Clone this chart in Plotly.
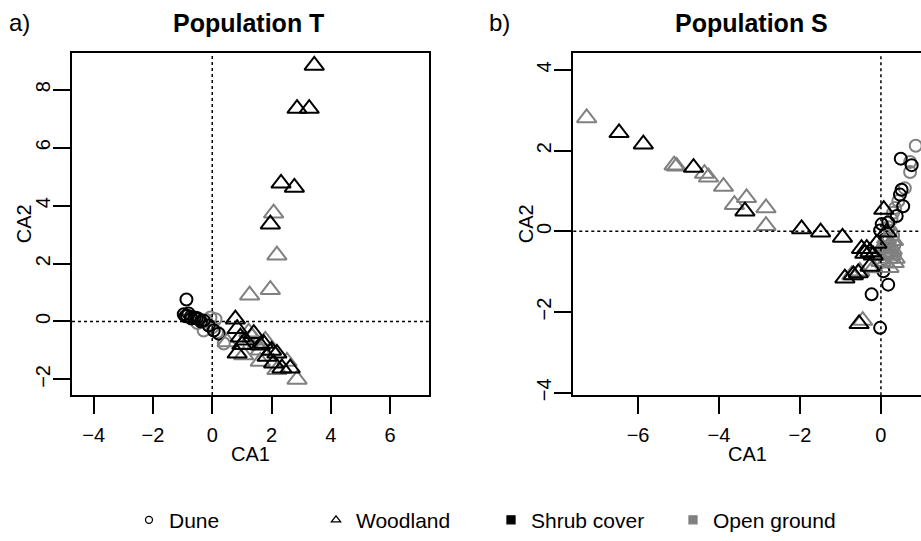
import plotly.graph_objects as go

# ---------------- data ----------------
# Panel a (Population T)
a_dune_shrub_x = [-0.87, -0.96, -0.85, -0.73, -0.60, -0.45, -0.29, -0.12, 0.05, 0.22, -0.90, -0.70, -0.52, -0.38, -0.80]
a_dune_shrub_y = [0.76, 0.25, 0.20, 0.16, 0.14, 0.08, 0.03, -0.14, -0.31, -0.42, 0.18, 0.10, 0.12, 0.00, 0.28]
a_dune_open_x = [-0.29, -0.06, 0.11, 0.16, 0.39, -0.50, -0.20, 0.00]
a_dune_open_y = [-0.31, 0.14, 0.08, -0.37, -0.76, -0.05, 0.05, -0.20]
a_wood_shrub_x = [3.44, 2.86, 3.27, 2.32, 2.77, 1.96, 0.78, 0.84, 0.95, 1.12, 0.84, 1.40, 1.62, 1.73, 1.85, 2.07, 2.18, 2.35, 2.63, 1.00, 2.00]
a_wood_shrub_y = [8.84, 7.35, 7.35, 4.77, 4.63, 3.36, 0.08, -0.25, -0.54, -0.65, -1.10, -0.42, -0.82, -0.76, -1.21, -1.44, -1.10, -1.61, -1.61, -0.80, -1.00]
a_wood_open_x = [2.07, 2.18, 1.96, 1.26, 0.50, 1.06, 1.23, 1.34, 1.62, 1.79, 1.62, 2.18, 2.52, 2.86, 1.50]
a_wood_open_y = [3.74, 2.29, 1.10, 0.91, -0.71, -1.16, -0.37, -0.54, -0.99, -0.65, -1.38, -1.67, -1.38, -2.00, -0.80]

# Panel b (Population S)
b_dune_shrub_x = [0.49, 0.76, 0.51, 0.47, 0.55, 0.39, 0.18, 0.02, -0.02, 0.06, 0.18, -0.23, -0.02, 0.10]
b_dune_shrub_y = [1.80, 1.64, 1.03, 0.91, 0.62, 0.38, 0.22, 0.18, 0.02, -0.99, -1.32, -1.56, -2.39, -0.20]
b_dune_open_x = [0.86, 0.72, 0.72, 0.59, 0.43, 0.35, 0.30, 0.26, 0.18, 0.30, 0.25, 0.33, 0.20]
b_dune_open_y = [2.12, 1.72, 1.47, 1.07, 0.75, 0.58, 0.46, 0.30, 0.10, -0.10, 0.00, -0.35, -0.55]
b_wood_shrub_x = [-6.47, -5.87, -4.63, -3.36, -1.96, -1.49, -0.95, 0.07, -0.35, -0.27, -0.19, -0.40, -0.89, -0.68, -0.56, -0.27, -0.54, -0.10, 0.14, -0.48]
b_wood_shrub_y = [2.44, 2.16, 1.58, 0.50, 0.06, -0.02, -0.15, 0.54, -0.43, -0.51, -0.59, -0.55, -1.16, -1.08, -1.03, -0.87, -2.29, -0.30, -0.02, -0.43]
b_wood_open_x = [-7.27, -5.11, -5.05, -4.36, -4.26, -3.89, -3.32, -3.62, -2.84, -2.84, -0.72, -0.52, -0.19, -0.45,
                 0.14, 0.22, 0.26, 0.18, 0.10, 0.31, 0.06, 0.35, -0.10, 0.00, 0.20, 0.28, 0.12, 0.24, 0.16, 0.33, 0.08]
b_wood_open_y = [2.81, 1.64, 1.61, 1.43, 1.34, 1.11, 0.83, 0.66, 0.58, 0.14, -1.08, -0.99, -0.91, -2.21,
                 -0.18, -0.35, -0.51, -0.67, -0.79, -0.23, -0.43, -0.67, -0.60, -0.75, -0.90, -0.45, -0.28, -0.60, -0.40, -0.78, -0.55]

a_xticks = [-4, -2, 0, 2, 4, 6]
a_yticks = [-2, 0, 2, 4, 6, 8]
b_xticks = [-6, -4, -2, 0]
b_yticks = [-4, -2, 0, 2, 4]

legend_names = ["Dune", "Woodland", "Shrub cover", "Open ground"]

BLACK = "#000000"
GRAY = "#808080"
FONT = "Liberation Sans, Arial, sans-serif"

fig = go.Figure()

def add_pts(x, y, sym, col, xa, ya, size):
    fig.add_trace(go.Scatter(
        x=x, y=y, mode="markers", xaxis=xa, yaxis=ya, showlegend=False,
        hoverinfo="skip",
        marker=dict(symbol=sym, size=size, color=col, line=dict(width=2, color=col))))

for xa, ya, dsx, dsy, dox, doy, wsx, wsy, wox, woy in [
    ("x", "y", a_dune_shrub_x, a_dune_shrub_y, a_dune_open_x, a_dune_open_y,
     a_wood_shrub_x, a_wood_shrub_y, a_wood_open_x, a_wood_open_y),
    ("x2", "y2", b_dune_shrub_x, b_dune_shrub_y, b_dune_open_x, b_dune_open_y,
     b_wood_shrub_x, b_wood_shrub_y, b_wood_open_x, b_wood_open_y)]:
    add_pts(dox, doy, "circle-open", GRAY, xa, ya, 12)
    add_pts(dsx, dsy, "circle-open", BLACK, xa, ya, 12)
    add_pts(wox, woy, "triangle-up-open", GRAY, xa, ya, 17)
    add_pts(wsx, wsy, "triangle-up-open", BLACK, xa, ya, 17)

# legend entries (four separate legends, laid out in a row)
leg_syms = [("circle-open", BLACK, 7), ("triangle-up-open", BLACK, 8), ("square", BLACK, 8), ("square", GRAY, 8)]
leg_ids = ["legend", "legend2", "legend3", "legend4"]
leg_x = [129, 316, 491, 673]
for name, (sym, col, sz), lid in zip(legend_names, leg_syms, leg_ids):
    fig.add_trace(go.Scatter(
        x=[None], y=[None], mode="markers", name=name, legend=lid, showlegend=True,
        marker=dict(symbol=sym, size=sz, color=col, line=dict(width=1.3, color=col))))

W, H = 921, 541

def px_x(p):
    return p / W

def px_y(p):
    return 1 - p / H

axis_common = dict(
    showline=True, linecolor=BLACK, linewidth=2, ticks="outside", ticklen=17,
    tickwidth=2, tickcolor=BLACK, showgrid=False, zeroline=False,
    tickfont=dict(family=FONT, size=20, color=BLACK))

layout = dict(
    width=W, height=H, margin=dict(l=0, r=0, t=0, b=0),
    paper_bgcolor="white", plot_bgcolor="white",
    font=dict(family=FONT, color=BLACK),
    xaxis=dict(domain=[px_x(72), px_x(428.7)], range=[-4.73, 7.30], tickvals=a_xticks,
               mirror=True, anchor="y", ticklabelstandoff=4, **axis_common),
    yaxis=dict(domain=[px_y(402.5), px_y(54.3)], range=[-2.54, 9.26], tickvals=a_yticks,
               mirror=True, anchor="x", tickangle=-90, ticklabelstandoff=-5, **axis_common),
    xaxis2=dict(domain=[px_x(573.3), 1.0], range=[-7.60, 0.99], tickvals=b_xticks,
                mirror=True, anchor="y2", ticklabelstandoff=4, **axis_common),
    yaxis2=dict(domain=[px_y(402.7), px_y(54.3)], range=[-4.06, 4.41], tickvals=b_yticks,
                mirror=False, anchor="x2", tickangle=-90, ticklabelstandoff=-5, **axis_common),
)
for lid, lx in zip(leg_ids, leg_x):
    layout[lid] = dict(x=px_x(lx), y=px_y(530), xanchor="left", yanchor="middle",
                       orientation="h", bgcolor="rgba(0,0,0,0)", borderwidth=0,
                       font=dict(family=FONT, size=21, color=BLACK), itemsizing="trace")
fig.update_layout(**layout)

# dotted zero reference lines
for xa, ya in [("x", "y"), ("x2", "y2")]:
    fig.add_shape(type="line", xref=xa, yref=ya + " domain", x0=0, x1=0, y0=0, y1=1,
                  line=dict(color=BLACK, width=1.5, dash="dot"))
    fig.add_shape(type="line", xref=xa + " domain", yref=ya, x0=0, x1=1, y0=0, y1=0,
                  line=dict(color=BLACK, width=1.5, dash="dot"))

# axis titles
for cx in [250, 747]:
    fig.add_annotation(text="CA1", x=px_x(cx), y=px_y(463), xref="paper", yref="paper",
                       showarrow=False, xanchor="center", yanchor="middle",
                       font=dict(family=FONT, size=20, color=BLACK))
for cx in [24, 526]:
    fig.add_annotation(text="CA2", x=px_x(cx), y=px_y(228.5), xref="paper", yref="paper",
                       showarrow=False, xanchor="center", yanchor="middle", textangle=-90,
                       font=dict(family=FONT, size=20, color=BLACK))

# titles and panel letters
for txt, cx, bold, fs in [("Population T", 248, True, 25), ("Population S", 751, True, 25),
                          ("a)", 19, False, 24), ("b)", 499, False, 24)]:
    fig.add_annotation(text=("<b>%s</b>" % txt) if bold else txt, x=px_x(cx), y=px_y(23),
                       xref="paper", yref="paper", showarrow=False, xanchor="center", yanchor="middle",
                       font=dict(family=FONT, size=fs, color=BLACK))

fig.write_html("out.html")
